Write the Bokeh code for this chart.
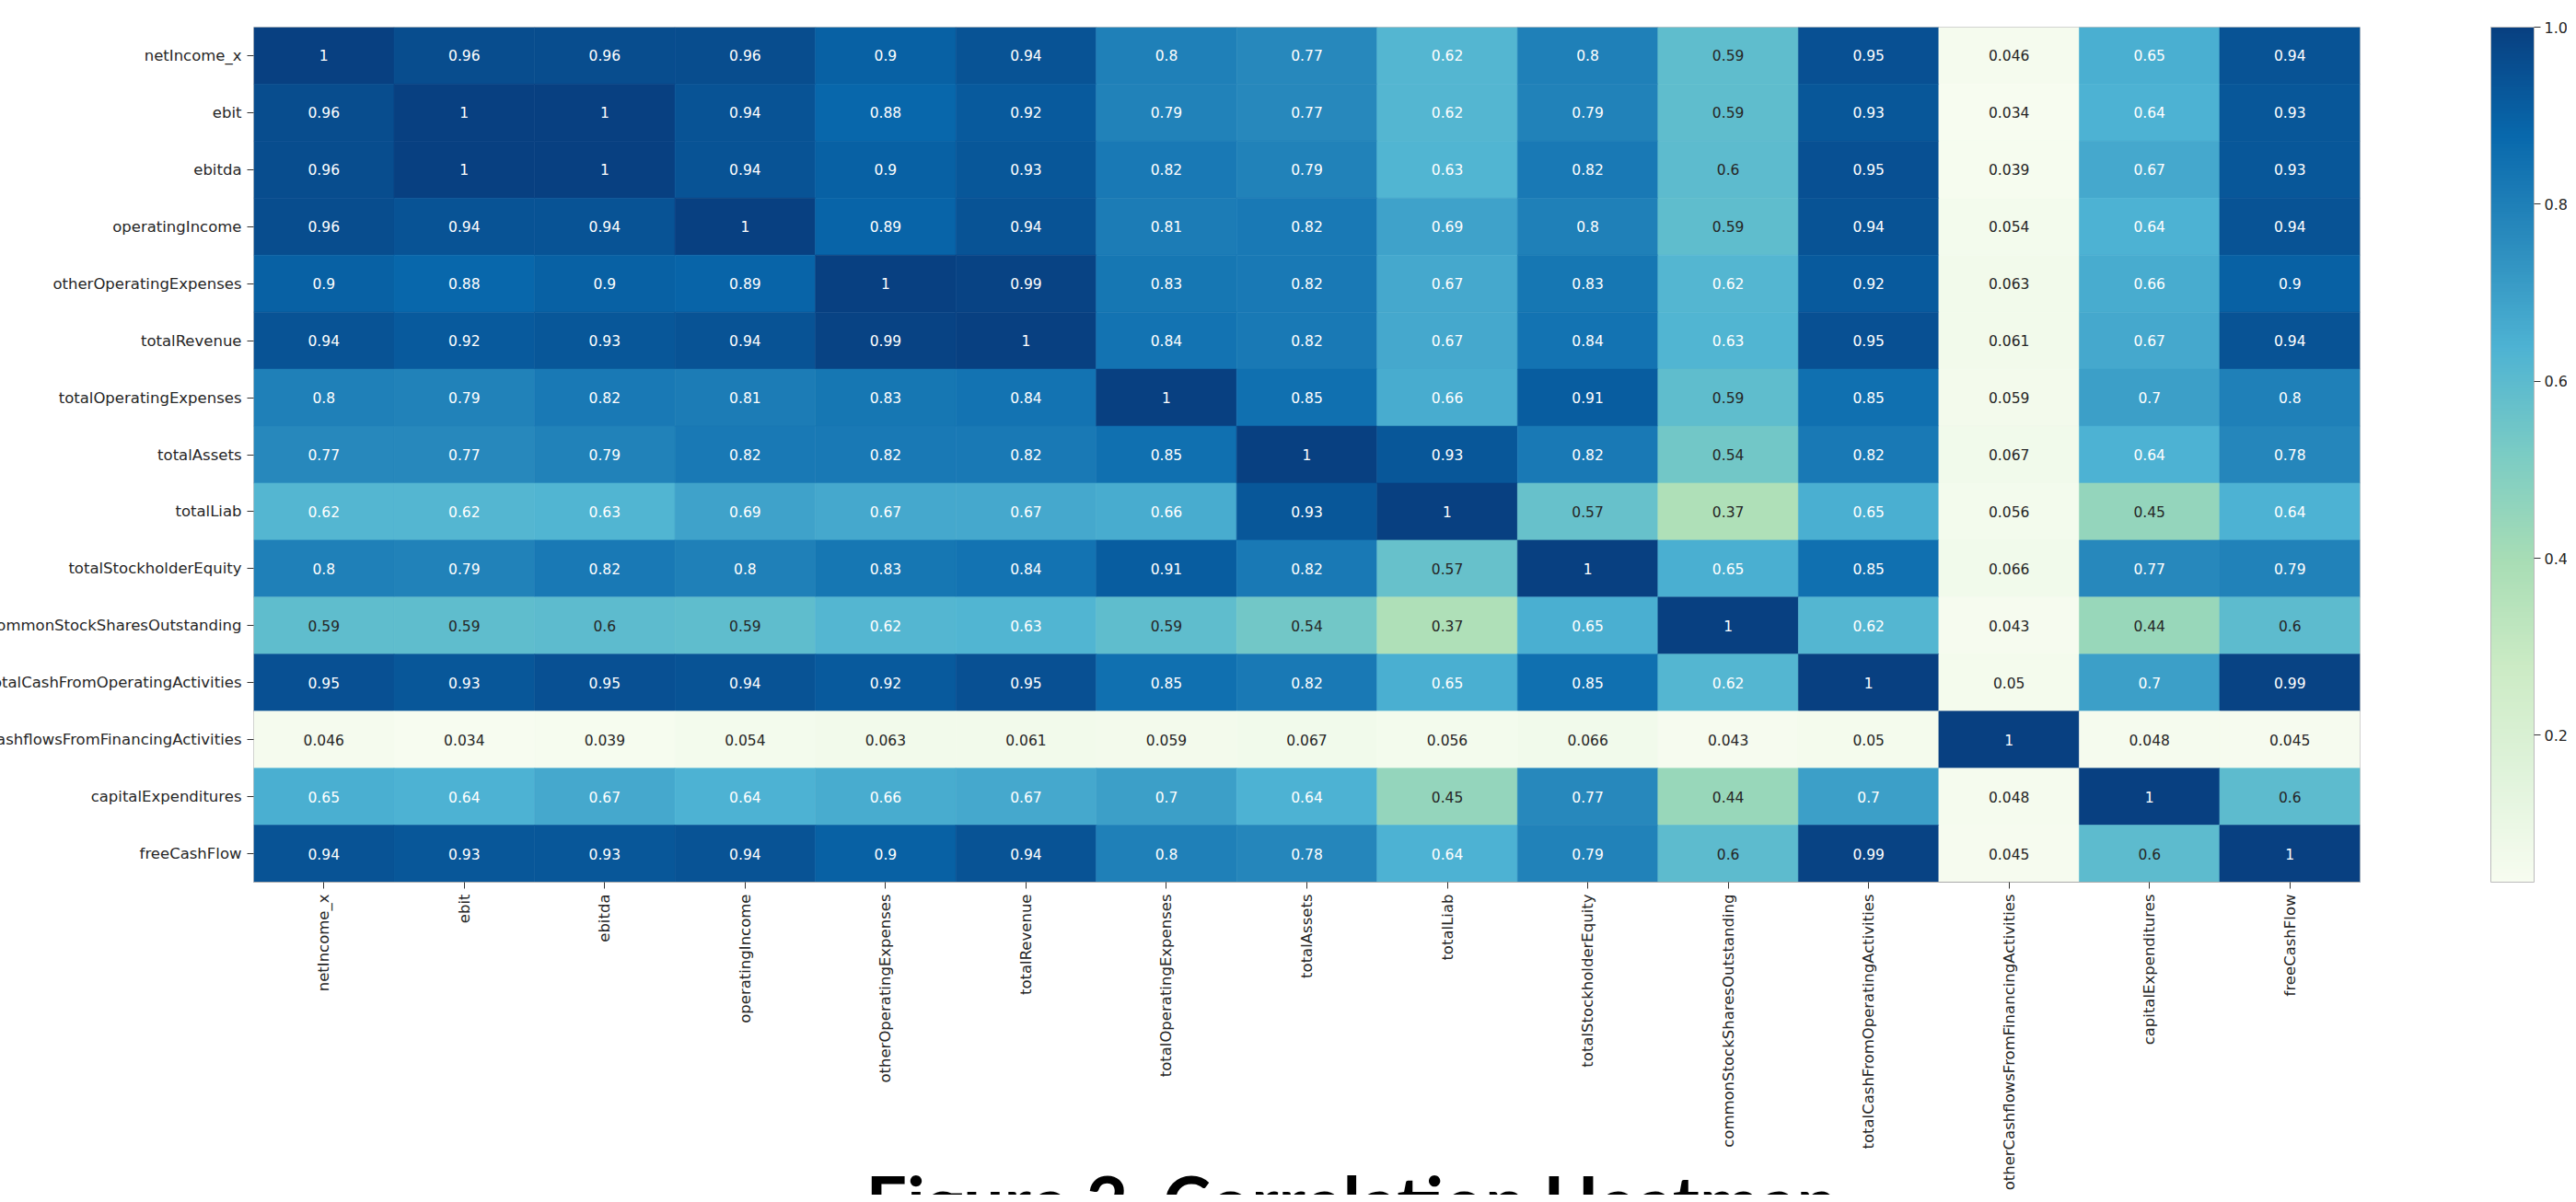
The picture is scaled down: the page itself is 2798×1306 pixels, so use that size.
import math
from bokeh.plotting import figure
from bokeh.models import (ColumnDataSource, LinearColorMapper, ColorBar, FixedTicker,
                          PrintfTickFormatter, Label, FactorRange, Range1d)
from bokeh.palettes import GnBu9
from bokeh.embed import file_html
from bokeh.resources import INLINE

# ---------------- data ----------------
labels = ["netIncome_x", "ebit", "ebitda", "operatingIncome", "otherOperatingExpenses",
          "totalRevenue", "totalOperatingExpenses", "totalAssets", "totalLiab",
          "totalStockholderEquity", "commonStockSharesOutstanding",
          "totalCashFromOperatingActivities", "otherCashflowsFromFinancingActivities",
          "capitalExpenditures", "freeCashFlow"]

netIncome_x = [1, 0.96, 0.96, 0.96, 0.9, 0.94, 0.8, 0.77, 0.62, 0.8, 0.59, 0.95, 0.046, 0.65, 0.94]
ebit = [0.96, 1, 1, 0.94, 0.88, 0.92, 0.79, 0.77, 0.62, 0.79, 0.59, 0.93, 0.034, 0.64, 0.93]
ebitda = [0.96, 1, 1, 0.94, 0.9, 0.93, 0.82, 0.79, 0.63, 0.82, 0.6, 0.95, 0.039, 0.67, 0.93]
operatingIncome = [0.96, 0.94, 0.94, 1, 0.89, 0.94, 0.81, 0.82, 0.69, 0.8, 0.59, 0.94, 0.054, 0.64, 0.94]
otherOperatingExpenses = [0.9, 0.88, 0.9, 0.89, 1, 0.99, 0.83, 0.82, 0.67, 0.83, 0.62, 0.92, 0.063, 0.66, 0.9]
totalRevenue = [0.94, 0.92, 0.93, 0.94, 0.99, 1, 0.84, 0.82, 0.67, 0.84, 0.63, 0.95, 0.061, 0.67, 0.94]
totalOperatingExpenses = [0.8, 0.79, 0.82, 0.81, 0.83, 0.84, 1, 0.85, 0.66, 0.91, 0.59, 0.85, 0.059, 0.7, 0.8]
totalAssets = [0.77, 0.77, 0.79, 0.82, 0.82, 0.82, 0.85, 1, 0.93, 0.82, 0.54, 0.82, 0.067, 0.64, 0.78]
totalLiab = [0.62, 0.62, 0.63, 0.69, 0.67, 0.67, 0.66, 0.93, 1, 0.57, 0.37, 0.65, 0.056, 0.45, 0.64]
totalStockholderEquity = [0.8, 0.79, 0.82, 0.8, 0.83, 0.84, 0.91, 0.82, 0.57, 1, 0.65, 0.85, 0.066, 0.77, 0.79]
commonStockSharesOutstanding = [0.59, 0.59, 0.6, 0.59, 0.62, 0.63, 0.59, 0.54, 0.37, 0.65, 1, 0.62, 0.043, 0.44, 0.6]
totalCashFromOperatingActivities = [0.95, 0.93, 0.95, 0.94, 0.92, 0.95, 0.85, 0.82, 0.65, 0.85, 0.62, 1, 0.05, 0.7, 0.99]
otherCashflowsFromFinancingActivities = [0.046, 0.034, 0.039, 0.054, 0.063, 0.061, 0.059, 0.067, 0.056, 0.066, 0.043, 0.05, 1, 0.048, 0.045]
capitalExpenditures = [0.65, 0.64, 0.67, 0.64, 0.66, 0.67, 0.7, 0.64, 0.45, 0.77, 0.44, 0.7, 0.048, 1, 0.6]
freeCashFlow = [0.94, 0.93, 0.93, 0.94, 0.9, 0.94, 0.8, 0.78, 0.64, 0.79, 0.6, 0.99, 0.045, 0.6, 1]

rows = [netIncome_x, ebit, ebitda, operatingIncome, otherOperatingExpenses, totalRevenue,
        totalOperatingExpenses, totalAssets, totalLiab, totalStockholderEquity,
        commonStockSharesOutstanding, totalCashFromOperatingActivities,
        otherCashflowsFromFinancingActivities, capitalExpenditures, freeCashFlow]

colorbar_ticks = [0.2, 0.4, 0.6, 0.8, 1.0]
title_text = "Figure 2. Correlation Heatmap"

# ---------------- GnBu colormap (matplotlib style, 256 steps) ----------------
anchors = list(reversed(GnBu9))  # light -> dark


def h2rgb(h):
    h = h.lstrip("#")
    return [int(h[i:i + 2], 16) / 255.0 for i in (0, 2, 4)]


anc = [h2rgb(c) for c in anchors]
palette = []
for i in range(256):
    t = i / 255.0 * (len(anc) - 1)
    k = min(int(t), len(anc) - 2)
    f = t - k
    rgb = [anc[k][j] + (anc[k + 1][j] - anc[k][j]) * f for j in range(3)]
    palette.append("#%02x%02x%02x" % tuple(int(round(c * 255)) for c in rgb))

vals_all = [v for r in rows for v in r]
vmin, vmax = min(vals_all), max(vals_all)
mapper = LinearColorMapper(palette=palette, low=vmin, high=vmax)


def lum(hexc):
    out = []
    for c in h2rgb(hexc):
        out.append(c / 12.92 if c <= 0.03928 else ((c + 0.055) / 1.055) ** 2.4)
    return 0.2126 * out[0] + 0.7152 * out[1] + 0.0722 * out[2]


n = len(labels)
xs, ys, vs, txt, tcol = [], [], [], [], []
for ri, r in enumerate(rows):
    for ci, v in enumerate(r):
        xs.append(labels[ci])
        ys.append(n - 1 - ri)
        vs.append(v)
        txt.append("%g" % v)
        idx = int((v - vmin) / (vmax - vmin) * 256)
        idx = max(0, min(255, idx))
        tcol.append("#262626" if lum(palette[idx]) > 0.408 else "#ffffff")

src = ColumnDataSource(dict(x=xs, y=ys, v=vs, t=txt, tc=tcol))

# ---------------- layout geometry ----------------
CANVAS_H = 1298
TOP = 29
CELL_H = 929 / n
frame_h = CANVAS_H - TOP
y_top = n - 0.5
y_bottom = y_top - frame_h / CELL_H

FONT = "DejaVu Sans"
p = figure(width=2913, height=CANVAS_H, output_backend="svg", toolbar_location=None,
           x_range=FactorRange(factors=labels), y_range=Range1d(y_bottom, y_top),
           min_border_left=400, min_border_right=225, min_border_top=TOP, min_border_bottom=0,
           margin=(0, 0, 0, -125))
p.background_fill_color = "white"
p.border_fill_color = "white"
p.outline_line_color = None
p.grid.visible = False

p.rect(x="x", y="y", width=1, height=1, source=src,
       fill_color={"field": "v", "transform": mapper},
       line_color={"field": "v", "transform": mapper}, line_width=0.6)

p.text(x="x", y="y", text="t", source=src, text_color="tc",
       text_align="center", text_baseline="middle",
       text_font={"value": FONT}, text_font_size={"value": "15.5px"})

# thin grey frame around the heat map
p.quad(left=[0], right=[n], bottom=[-0.5], top=[n - 0.5],
       fill_color=None, line_color="#aaaaaa", line_width=1)

p.yaxis.ticker = FixedTicker(ticks=list(range(n)))
p.yaxis.major_label_overrides = {n - 1 - i: lab for i, lab in enumerate(labels)}
p.yaxis.minor_tick_line_color = None
p.xaxis.fixed_location = -0.5

for ax in (p.xaxis[0], p.yaxis[0]):
    ax.axis_line_color = None
    ax.major_tick_out = 7
    ax.major_tick_in = 0
    ax.major_tick_line_color = "#333333"
    ax.major_label_text_font = FONT
    ax.major_label_text_font_size = "16.5px"
    ax.major_label_text_color = "#262626"
    ax.major_label_standoff = 6
p.xaxis.major_label_orientation = math.pi / 2

cb = ColorBar(color_mapper=mapper, width=47, height=929, padding=0, margin=0,
              location=(2430, int(round((-0.5 - y_bottom) * CELL_H))),
              ticker=FixedTicker(ticks=colorbar_ticks),
              formatter=PrintfTickFormatter(format="%.1f"),
              major_tick_in=0, major_tick_out=7, major_tick_line_color="#333333",
              label_standoff=4, major_label_text_font=FONT,
              major_label_text_font_size="16px", major_label_text_color="#262626",
              bar_line_color="#bbbbbb", border_line_color=None,
              background_fill_color=None)
p.add_layout(cb)

title_top = -0.5 - (1265 - 965.7) / CELL_H
p.add_layout(Label(x=7.82, y=title_top, text=title_text,
                   text_font="Lato", text_font_style="bold", text_font_size="78.5px",
                   text_color="black", text_align="center", text_baseline="top"))

open("out.html", "w").write(file_html(p, INLINE))
